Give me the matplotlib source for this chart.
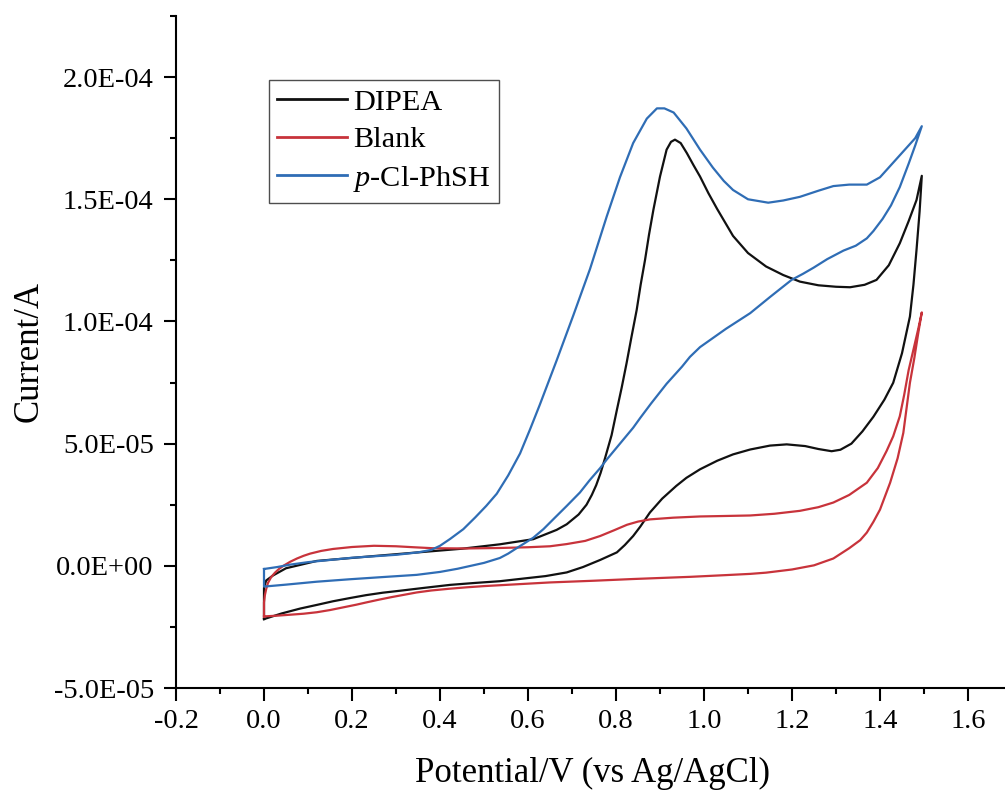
import matplotlib
matplotlib.use("Agg")
import matplotlib.pyplot as plt
from matplotlib.ticker import MultipleLocator, FuncFormatter
import numpy as np

plt.rcParams['font.family'] = ['Liberation Serif', 'DejaVu Serif']
plt.rcParams['mathtext.fontset'] = 'custom'
plt.rcParams['mathtext.rm'] = 'Liberation Serif'
plt.rcParams['mathtext.it'] = 'Liberation Serif:italic'
plt.rcParams['axes.unicode_minus'] = False

# Cyclic voltammograms: potential (V vs Ag/AgCl) and current (units of 1e-5 A)
# DIPEA
dipea_fwd_E = [0.0, 0.0, 0.005, 0.02, 0.05, 0.12, 0.25, 0.35, 0.45, 0.536, 0.612, 0.665, 0.688,
               0.715, 0.733, 0.745, 0.755, 0.765, 0.775, 0.79, 0.802, 0.813, 0.824, 0.835, 0.847,
               0.856, 0.866, 0.875, 0.885, 0.90, 0.915, 0.925, 0.934, 0.947, 0.961, 0.976, 0.991,
               1.01, 1.03, 1.066, 1.10, 1.141, 1.18, 1.218, 1.26, 1.30, 1.332, 1.365, 1.392,
               1.42, 1.445, 1.465, 1.483, 1.495]
dipea_fwd_I = [-2.18, -0.9, -0.6, -0.4, -0.1, 0.2, 0.4, 0.55, 0.7, 0.88, 1.09, 1.47, 1.7,
               2.1, 2.5, 2.9, 3.3, 3.8, 4.4, 5.35, 6.38, 7.3, 8.29, 9.35, 10.47,
               11.5, 12.52, 13.55, 14.57, 15.93, 17.03, 17.35, 17.44, 17.3, 16.89, 16.4, 15.93,
               15.25, 14.6, 13.5, 12.8, 12.25, 11.9, 11.63, 11.48, 11.42, 11.4, 11.5, 11.7,
               12.3, 13.2, 14.1, 14.97, 15.96]
dipea_rev_E = [1.495, 1.49, 1.483, 1.476, 1.468, 1.45, 1.43, 1.41, 1.385, 1.36, 1.335, 1.31,
               1.29, 1.26, 1.23, 1.188, 1.15, 1.105, 1.066, 1.03, 0.991, 0.96, 0.937, 0.905,
               0.877, 0.855, 0.839, 0.82, 0.802, 0.764, 0.725, 0.688, 0.64, 0.60, 0.536, 0.48,
               0.423, 0.365, 0.309, 0.27, 0.232, 0.195, 0.157, 0.12, 0.082, 0.04, 0.0]
dipea_rev_I = [15.96, 14.5, 12.93, 11.5, 10.2, 8.7, 7.49, 6.8, 6.1, 5.5, 5.0, 4.75,
               4.69, 4.78, 4.9, 4.97, 4.92, 4.76, 4.56, 4.3, 3.95, 3.6, 3.27, 2.75,
               2.18, 1.6, 1.22, 0.85, 0.55, 0.24, -0.05, -0.27, -0.42, -0.5, -0.63, -0.7,
               -0.78, -0.9, -1.02, -1.1, -1.2, -1.32, -1.45, -1.6, -1.75, -1.95, -2.18]

# Blank
blank_fwd_E = [0.0, 0.0, 0.002, 0.005, 0.009, 0.016, 0.025, 0.034, 0.044, 0.06, 0.075, 0.09,
               0.105, 0.13, 0.157, 0.20, 0.25, 0.30, 0.34, 0.384, 0.461, 0.536, 0.60, 0.65,
               0.688, 0.73, 0.764, 0.795, 0.825, 0.85, 0.877, 0.93, 0.991, 1.05, 1.105, 1.16,
               1.218, 1.26, 1.294, 1.33, 1.37, 1.395, 1.415, 1.43, 1.445, 1.455, 1.465, 1.478,
               1.487, 1.495]
blank_fwd_I = [-2.07, -1.5, -1.2, -0.95, -0.7, -0.47, -0.28, -0.13, 0.0, 0.17, 0.3, 0.41,
               0.5, 0.61, 0.69, 0.77, 0.82, 0.8, 0.76, 0.72, 0.71, 0.73, 0.76, 0.8,
               0.89, 1.02, 1.22, 1.45, 1.68, 1.81, 1.9, 1.97, 2.02, 2.04, 2.06, 2.13,
               2.25, 2.4, 2.59, 2.9, 3.4, 4.0, 4.7, 5.3, 6.12, 7.0, 8.0, 9.0,
               9.7, 10.37]
blank_rev_E = [1.495, 1.487, 1.478, 1.468, 1.46, 1.453, 1.44, 1.423, 1.40, 1.385, 1.37, 1.355,
               1.33, 1.294, 1.25, 1.20, 1.141, 1.105, 1.05, 0.97, 0.839, 0.75, 0.65, 0.60,
               0.55, 0.50, 0.46, 0.42, 0.38, 0.347, 0.32, 0.29, 0.26, 0.232, 0.21, 0.18,
               0.15, 0.12, 0.09, 0.06, 0.03, 0.0]
blank_rev_I = [10.37, 9.53, 8.5, 7.49, 6.4, 5.44, 4.4, 3.4, 2.3, 1.8, 1.36, 1.05,
               0.72, 0.3, 0.02, -0.15, -0.28, -0.33, -0.38, -0.45, -0.54, -0.61, -0.68, -0.73,
               -0.78, -0.83, -0.88, -0.94, -1.01, -1.09, -1.18, -1.28, -1.39, -1.5, -1.59, -1.7,
               -1.81, -1.9, -1.96, -2.0, -2.04, -2.07]

# p-Cl-PhSH
thiol_fwd_E = [0.0, 0.03, 0.06, 0.10, 0.20, 0.30, 0.35, 0.38, 0.40, 0.423, 0.453, 0.48, 0.505,
               0.529, 0.555, 0.582, 0.605, 0.627, 0.665, 0.703, 0.741, 0.779, 0.809, 0.839,
               0.87, 0.893, 0.91, 0.931, 0.96, 0.991, 1.02, 1.045, 1.066, 1.10,
               1.146, 1.18, 1.218, 1.26, 1.294, 1.33, 1.37, 1.40, 1.43, 1.46, 1.48, 1.495]
thiol_fwd_I = [-0.13, -0.05, 0.05, 0.15, 0.33, 0.45, 0.55, 0.65, 0.82, 1.1, 1.5, 1.98, 2.45,
               2.95, 3.7, 4.6, 5.6, 6.6, 8.4, 10.25, 12.15, 14.3, 15.9, 17.3,
               18.3, 18.72, 18.72, 18.55, 17.9, 17.03, 16.3, 15.75, 15.38, 15.0,
               14.86, 14.95, 15.1, 15.35, 15.54, 15.6, 15.6, 15.9, 16.5, 17.1, 17.5, 17.99]
thiol_rev_E = [1.495, 1.48, 1.465, 1.445, 1.425, 1.406, 1.385, 1.37, 1.345, 1.317, 1.28, 1.249,
               1.225, 1.199, 1.15, 1.105, 1.05, 0.991, 0.968, 0.95, 0.915, 0.88, 0.855, 0.839,
               0.809, 0.779, 0.764, 0.74, 0.718, 0.688, 0.66, 0.635, 0.612, 0.59, 0.574, 0.555,
               0.536, 0.50, 0.47, 0.44, 0.40, 0.347, 0.27, 0.195, 0.12, 0.05, 0.0, 0.0]
thiol_rev_I = [17.99, 17.2, 16.45, 15.5, 14.75, 14.2, 13.7, 13.4, 13.1, 12.9, 12.55, 12.2,
               11.95, 11.7, 11.0, 10.34, 9.7, 8.95, 8.55, 8.15, 7.45, 6.65, 6.05, 5.65,
               5.0, 4.35, 4.0, 3.5, 3.0, 2.45, 1.95, 1.5, 1.15, 0.9, 0.72, 0.5,
               0.32, 0.12, 0.0, -0.12, -0.25, -0.37, -0.46, -0.55, -0.65, -0.77, -0.85, -0.13]

series_names = ['DIPEA', 'Blank', '$p$-Cl-PhSH']
series_colors = ['#111111', '#c8333b', '#2f6db5']

x_ticks = [-0.2, 0.0, 0.2, 0.4, 0.6, 0.8, 1.0, 1.2, 1.4, 1.6]
y_ticks = [-5e-5, 0.0, 5e-5, 1e-4, 1.5e-4, 2e-4]

W, H = 1005, 796
fig = plt.figure(figsize=(W / 100, H / 100), dpi=100)
ax_left, ax_bottom = 176 / W, 1 - 688 / H
ax = fig.add_axes([ax_left, ax_bottom, 829 / W, (688 - 16) / H])

loops = [
    (dipea_fwd_E + dipea_rev_E, dipea_fwd_I + dipea_rev_I),
    (blank_fwd_E + blank_rev_E, blank_fwd_I + blank_rev_I),
    (thiol_fwd_E + thiol_rev_E, thiol_fwd_I + thiol_rev_I),
]
for k, ((E, I), name, color) in enumerate(zip(loops, series_names, series_colors)):
    ax.plot(E, np.array(I) * 1e-5, color=color, lw=1.6, label=name, zorder=2 + k,
            solid_joinstyle='round')

ax.set_xlim(-0.2, -0.2 + 829 / 440)
ax.set_ylim(-5e-5, 2.25e-4)

for side in ('top', 'right'):
    ax.spines[side].set_visible(False)
for side in ('left', 'bottom'):
    ax.spines[side].set_linewidth(1.5)

ax.set_xticks(x_ticks)
ax.set_yticks(y_ticks)
ax.xaxis.set_minor_locator(MultipleLocator(0.1))
ax.yaxis.set_minor_locator(MultipleLocator(2.5e-5))
ax.xaxis.set_major_formatter(FuncFormatter(lambda v, p: f"{v:.1f}"))
ax.yaxis.set_major_formatter(FuncFormatter(lambda v, p: f"{v:.1E}"))
ax.tick_params(which='major', direction='out', length=9, width=1.5, labelsize=20.5, pad=6)
ax.tick_params(which='minor', direction='out', length=4.5, width=1.5)
ax.tick_params(axis='y', which='major', pad=7)

ax.set_xlabel('Potential/V (vs Ag/AgCl)', fontsize=25)
ax.set_ylabel('Current/A', fontsize=25)
ax_h = (688 - 16)
ax.xaxis.set_label_coords((592 - 176) / 829, (688 - 757) / ax_h)
ax.yaxis.set_label_coords((46 - 176) / 829, (688 - 352) / ax_h)

leg = ax.legend(loc='upper left', bbox_to_anchor=(269 / W, 1 - 80 / H),
                bbox_transform=fig.transFigure, fontsize=21.8, frameon=True,
                fancybox=False, borderaxespad=0, borderpad=0.28, labelspacing=0.35,
                handlelength=2.3, handletextpad=0.2)
leg.get_frame().set_edgecolor('#222222')
leg.get_frame().set_linewidth(1.0)
for line in leg.get_lines():
    line.set_linewidth(2.0)

fig.savefig('out.png', dpi=100)
